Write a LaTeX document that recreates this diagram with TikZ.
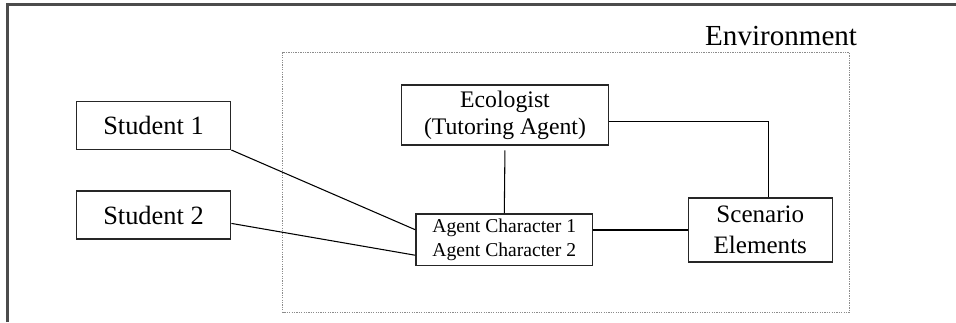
\documentclass[tikz,border=0pt]{standalone}
\usepackage{fontspec}
\setmainfont{Liberation Serif}
\usetikzlibrary{calc}
\begin{document}
\begin{tikzpicture}[x=0.75pt,y=-0.75pt,
  box/.style={draw=black!85,line width=1.1pt,inner sep=0pt,align=center},
  link/.style={draw=black,line width=0.8pt},
  frame/.style={draw=black!70,line width=1.6pt},
  envbox/.style={draw=black!45,line width=0.7pt,dash pattern=on 1pt off 0.8pt}]
\useasboundingbox (0,0) rectangle (956,322);
% page frame (top and left edges)
\draw[frame] (7.5,322) -- (7.5,4.5) -- (956,4.5);
% environment region
\draw[envbox] (282.7,52.3) rectangle (849.3,312.3);
\node[anchor=base east,font=\fontsize{21.8pt}{24pt}\selectfont] (envlabel) at (861.7,45) {Environment};
% participants
\node[box,minimum width=154.4*0.75pt,minimum height=48*0.75pt,font=\fontsize{19.8pt}{22pt}\selectfont] (s1) at (153.5,125.3) {Student 1};
\node[box,minimum width=154.4*0.75pt,minimum height=48*0.75pt,font=\fontsize{19.8pt}{22pt}\selectfont] (s2) at (153.5,215) {Student 2};
\node[box,minimum width=206.6*0.75pt,minimum height=60*0.75pt,font=\fontsize{17.8pt}{20.5pt}\selectfont] (eco) at (505,115) {Ecologist\\(Tutoring Agent)};
\node[box,minimum width=176.7*0.75pt,minimum height=51.7*0.75pt,font=\fontsize{14.7pt}{18pt}\selectfont] (agent) at (504.3,239.8) {Agent Character 1\\Agent Character 2};
\node[box,minimum width=144*0.75pt,minimum height=64*0.75pt,font=\fontsize{18.8pt}{23pt}\selectfont] (scen) at (760.3,230) {Scenario\\Elements};
% connections
\coordinate (a1) at ($(agent.north west)!0.31!(agent.south west)$);
\coordinate (a2) at ($(agent.north west)!0.79!(agent.south west)$);
\coordinate (s2r) at ($(s2.north east)!0.67!(s2.south east)$);
\coordinate (ecor) at ($(eco.north east)!0.61!(eco.south east)$);
\coordinate (scent) at ($(scen.north west)!0.556!(scen.north east)$);
\draw[link] (s1.south east) -- (a1);
\draw[link] (s2r) -- (a2);
\draw[link,shorten <=3.5pt] (eco.south) -- (agent.north);
\draw[link] (agent.east |- scen.west) -- (scen.west);
\draw[link] (ecor) -| (scent);
\end{tikzpicture}
\end{document}
